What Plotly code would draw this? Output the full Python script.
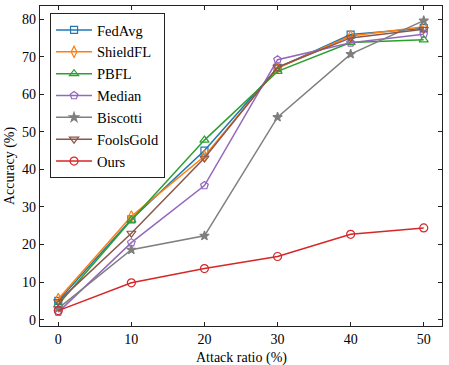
import plotly.graph_objects as go

x = [0, 10, 20, 30, 40, 50]
fedavg = [5.0, 26.7, 45.0, 67.0, 75.9, 77.6]
shieldfl = [5.5, 27.5, 43.5, 67.0, 75.5, 78.0]
pbfl = [4.0, 26.5, 47.8, 66.1, 73.8, 74.5]
median = [2.0, 20.5, 35.7, 69.2, 73.7, 76.0]
biscotti = [3.0, 18.6, 22.3, 53.9, 70.7, 79.6]
foolsgold = [4.8, 23.0, 43.0, 67.2, 75.0, 77.3]
ours = [2.4, 9.8, 13.6, 16.8, 22.7, 24.4]
yticks = [0, 10, 20, 30, 40, 50, 60, 70, 80]

series = [
    ("FedAvg", fedavg, "#1f77b4", "square-open", 7),
    ("ShieldFL", shieldfl, "#ff7f0e", "diamond-tall-open", 8),
    ("PBFL", pbfl, "#2ca02c", "triangle-up-open", 8),
    ("Median", median, "#9467bd", "pentagon-open", 8),
    ("Biscotti", biscotti, "#7f7f7f", "star", 7),
    ("FoolsGold", foolsgold, "#8c564b", "triangle-down-open", 8),
    ("Ours", ours, "#d62728", "circle-open", 8),
]

fig = go.Figure()
for name, y, c, sym, sz in series:
    fig.add_trace(go.Scatter(
        x=x, y=y, name=name, mode="lines+markers",
        line=dict(color=c, width=1.5),
        marker=dict(symbol=sym, size=sz, color=c, line=dict(color=c, width=1.2)),
    ))

font = "Liberation Serif, Times New Roman, serif"
axis_common = dict(
    showline=True, linecolor="#222", linewidth=1.2, mirror="ticks",
    ticks="inside", ticklen=4, tickcolor="#222", showgrid=False, zeroline=False,
    tickfont=dict(family=font, size=14, color="black"), automargin=False,
)
fig.update_layout(
    width=449, height=365,
    margin=dict(l=40, r=7, t=6, b=39),
    plot_bgcolor="white", paper_bgcolor="white",
    font=dict(family=font, color="black"),
    xaxis=dict(range=[-2.5, 52.5], tickvals=x, **axis_common),
    yaxis=dict(range=[-1.7, 83.5], tickvals=yticks, **axis_common),
    legend=dict(x=0.025, y=0.978, xanchor="left", yanchor="top",
                bordercolor="#222", borderwidth=1, bgcolor="white",
                font=dict(family=font, size=14.5), tracegroupgap=0, itemwidth=36),
    showlegend=True,
)
fig.add_annotation(text="Attack ratio (%)", xref="paper", yref="paper", x=0.5, y=0,
                   yshift=-32, showarrow=False, font=dict(family=font, size=14), yanchor="middle")
fig.add_annotation(text="Accuracy (%)", xref="paper", yref="paper", x=0, y=0.5,
                   xshift=-30, showarrow=False, textangle=-90, font=dict(family=font, size=14), xanchor="center")
fig.write_html("out.html", config={"displayModeBar": False},
               post_script="document.body.style.margin='0';document.body.style.overflow='hidden';")
